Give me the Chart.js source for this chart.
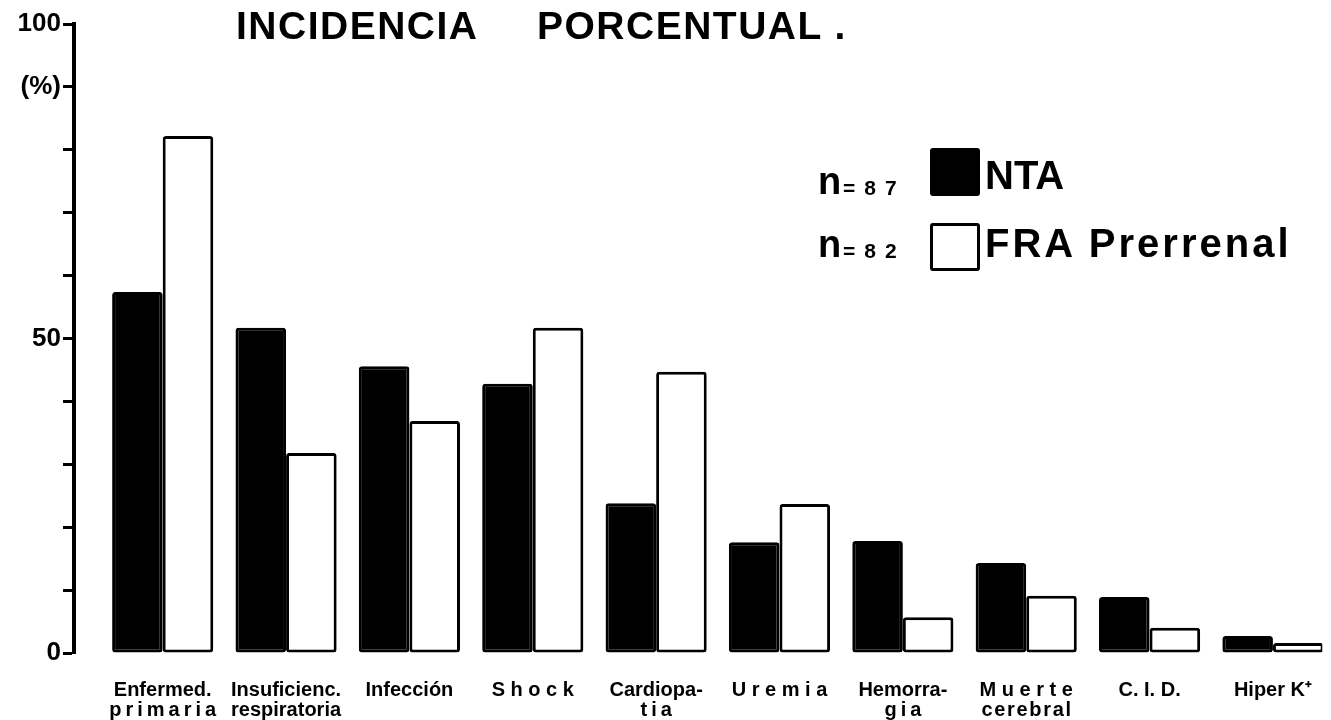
<!DOCTYPE html>
<html>
<head>
<meta charset="utf-8">
<script src="https://cdn.jsdelivr.net/npm/chart.js@4.4.1/dist/chart.umd.min.js"></script>
<style>
  body { margin: 0; background: #fff; overflow: hidden; }
  #wrap { position: relative; width: 1331px; height: 720px; font-family: "Liberation Sans", Arial, sans-serif; font-weight: bold; color: #000; }
  .tt { position: absolute; top: 4px; font-size: 39px; letter-spacing: 1.5px; white-space: pre; }
  .lg { position: absolute; white-space: pre; }
  .box { position: absolute; width: 50px; height: 48px; border-radius: 3px; box-sizing: border-box; border: 3px solid #000; }
</style>
</head>
<body>
<div id="wrap">
  <canvas id="chart" width="1331" height="720"></canvas>
  <div class="tt" style="left:236px;">INCIDENCIA</div>
  <div class="tt" style="left:537px;">PORCENTUAL .</div>

  <!-- legend -->
  <div class="lg" style="left:818px;top:160px;font-size:38px;">n</div>
  <div class="lg" style="left:843px;top:176px;font-size:21px;letter-spacing:9px;">=87</div>
  <div class="box" style="left:930px;top:148px;background:#000;"></div>
  <div class="lg" style="left:985px;top:153px;font-size:40px;">NTA</div>

  <div class="lg" style="left:818px;top:223px;font-size:38px;">n</div>
  <div class="lg" style="left:843px;top:239px;font-size:21px;letter-spacing:9px;">=82</div>
  <div class="box" style="left:930px;top:223px;background:#fff;"></div>
  <div class="lg" style="left:985px;top:221px;font-size:40px;letter-spacing:3px;">FRA Prerrenal</div>
</div>

<script>
const categories = [
  ["Enfermed.", "p\u2009r\u2009i\u2009m\u2009a\u2009r\u2009i\u2009a"],
  ["Insuficienc.", "respiratoria"],
  ["Infección"],
  ["S h o c k"],
  ["Cardiopa-", "t\u2009i\u2009a"],
  ["U r e m i a"],
  ["Hemorra-", "g\u2009i\u2009a"],
  ["M u e r t e", "c\u200Ae\u200Ar\u200Ae\u200Ab\u200Ar\u200Aa\u200Al"],
  ["C. I. D."],
  ["Hiper K⁺"],
];
const ntaValues = [57.4, 51.7, 45.6, 42.8, 23.8, 17.6, 17.8, 14.3, 8.9, 2.7];
const fraValues = [82.2, 31.8, 36.9, 51.7, 44.7, 23.7, 5.7, 9.1, 4.0, 1.6];
const yTickLabels = { 0: "0", 50: "50", 90: "(%)", 100: "100" };

const toPoints = (arr) => arr.map((v, i) => ({ x: i, y: v }));

new Chart(document.getElementById("chart"), {
  type: "bar",
  data: {
    datasets: [
      {
        label: "NTA",
        data: toPoints(ntaValues),
        backgroundColor: "#000",
        borderColor: "#000",
        borderWidth: 3,
        borderRadius: 3,
        borderSkipped: false,
      },
      {
        label: "FRA Prerrenal",
        data: toPoints(fraValues),
        backgroundColor: "#fff",
        borderColor: "#000",
        borderWidth: 3,
        borderRadius: 3,
        borderSkipped: false,
      },
    ],
  },
  options: {
    responsive: false,
    animation: false,
    layout: { padding: { top: 24, right: 0, bottom: 0, left: 0 } },
    datasets: { bar: { categoryPercentage: 0.82, barPercentage: 1.0 } },
    plugins: { legend: { display: false }, tooltip: { enabled: false } },
    scales: {
      x: {
        type: "linear",
        min: -0.719,
        max: 9.40,
        offset: false,
        afterFit: (scale) => { scale.height = 67; },
        grid: { display: false, offset: false },
        border: { display: false },
        afterBuildTicks: (scale) => {
          scale.ticks = categories.map((_, i) => ({ value: i }));
        },
        ticks: {
          autoSkip: false,
          maxRotation: 0,
          padding: 19,
          color: "#000",
          font: { family: "Liberation Sans", size: 20, weight: "bold", lineHeight: 1.0 },
          callback: (value) => categories[value],
        },
      },
      y: {
        min: 0,
        max: 100,
        afterFit: (scale) => { scale.width = 74; },
        grid: {
          drawOnChartArea: false,
          drawTicks: true,
          tickLength: 11,
          tickWidth: 3,
          color: "#000",
        },
        border: { display: true, color: "#000", width: 4 },
        ticks: {
          stepSize: 10,
          padding: 2,
          color: "#000",
          font: { family: "Liberation Sans", size: 26, weight: "bold" },
          callback: (value) => yTickLabels[value] || "",
        },
      },
    },
  },
});
</script>
</body>
</html>
